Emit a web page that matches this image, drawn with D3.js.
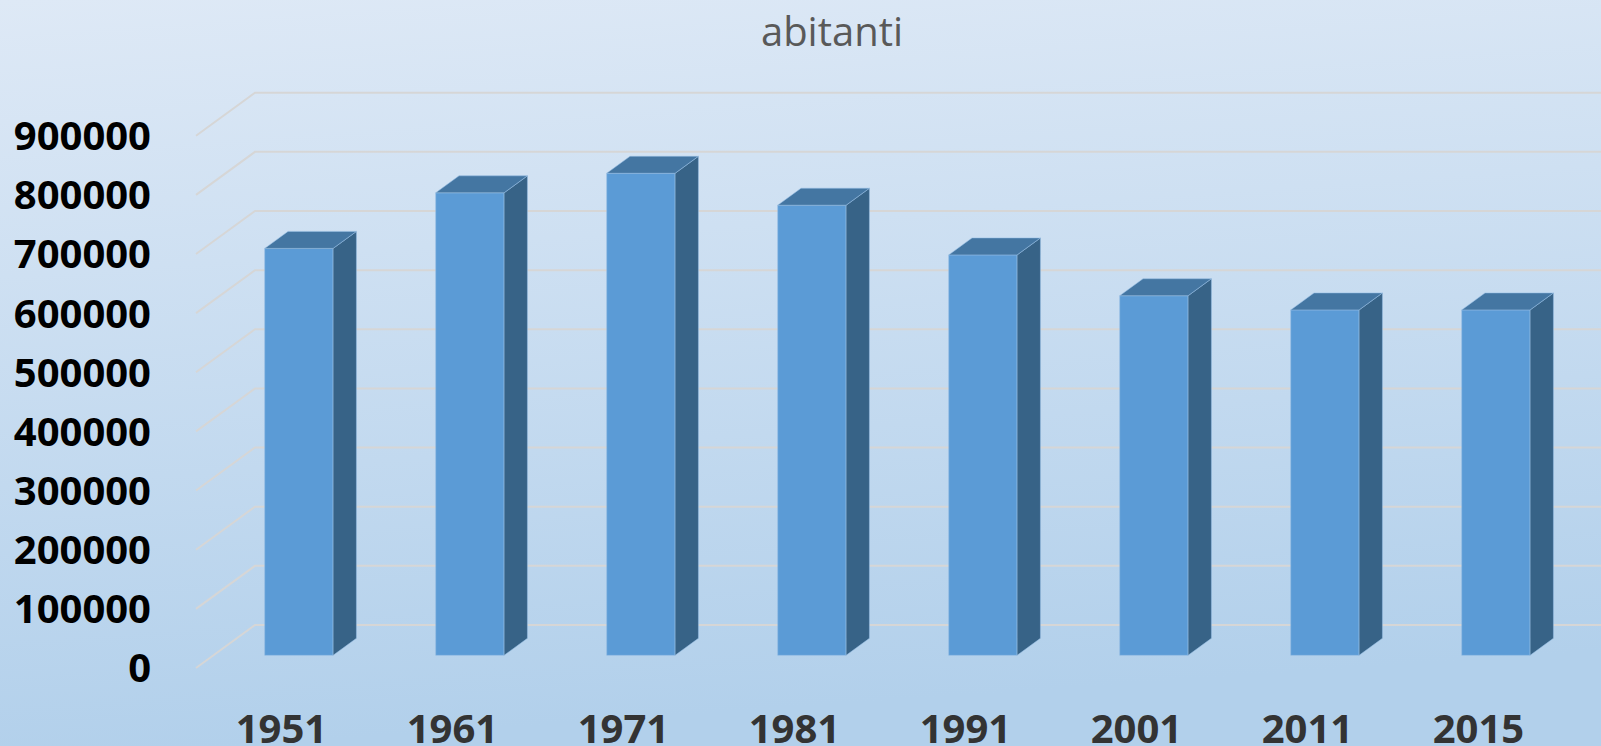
<!DOCTYPE html>
<html>
<head>
<meta charset="utf-8">
<script src="https://cdn.jsdelivr.net/npm/d3@7"></script>
<style>
  html, body { margin: 0; padding: 0; overflow: hidden; }
  svg { display: block; }
</style>
</head>
<body>
<svg id="chart"></svg>
<script>
// 3d column chart, excel style

// DATA
var years = ["1951", "1961", "1971", "1981", "1991", "2001", "2011", "2015"];
var abitanti = [688000, 782000, 815000, 761000, 677000, 608000, 584000, 584000];
var yTicks = [0, 100000, 200000, 300000, 400000, 500000, 600000, 700000, 800000, 900000];
var title = "abitanti";

// chart area
var width = 1601;
var height = 746;

// floor front-left corner and depth vector (front -> back wall)
var x0 = 196;
var depth = { dx: 59, dy: -43 };
// bar occupies this slice of the depth
var barZ0 = 0.295;
var barZ1 = 0.69;

var svg = d3.select("#chart")
    .attr("width", width)
    .attr("height", height);

// background gradient
var defs = svg.append("defs");
var grad = defs.append("linearGradient")
    .attr("id", "bg")
    .attr("x1", 0).attr("y1", 0)
    .attr("x2", 0.15).attr("y2", 1);
grad.append("stop").attr("offset", "0%").attr("stop-color", "#dee9f6");
grad.append("stop").attr("offset", "100%").attr("stop-color", "#b2d0eb");

svg.append("rect")
    .attr("width", width)
    .attr("height", height)
    .attr("fill", "url(#bg)");

// SCALES

// x, on the front edge of the floor
var x = d3.scaleBand()
    .domain(years)
    .range([x0, x0 + 171 * years.length])
    .paddingInner(0.6)
    .paddingOuter(0.3);

// y, on the front plane
var y = d3.scaleLinear()
    .domain([0, 900000])
    .range([668, 668 - 532.3]);

// project a point at depth z (0 = front, 1 = back wall)
function px(xv, z) { return xv + z * depth.dx; }
function py(yv, z) { return yv + z * depth.dy; }

// GRIDLINES

var grid = svg.append("g")
    .attr("stroke", "#d6d6d6")
    .attr("stroke-width", 2)
    .attr("fill", "none");

grid.selectAll("polyline")
    .data(yTicks)
    .enter()
    .append("polyline")
    .attr("points", function(d) {
        return [
            [x0, y(d)],
            [px(x0, 1), py(y(d), 1)],
            [px(x.range()[1], 1) + 40, py(y(d), 1)]
        ].join(" ");
    });

// AXIS LABELS

svg.append("g")
    .selectAll("text")
    .data(yTicks)
    .enter()
    .append("text")
    .attr("x", 151)
    .attr("y", d => y(d))
    .attr("dy", "0.36em")
    .attr("text-anchor", "end")
    .style("font-family", "'Open Sans', sans-serif")
    .style("font-weight", "bold")
    .style("font-size", "40px")
    .style("fill", "#000000")
    .text(d => d);

svg.append("g")
    .selectAll("text")
    .data(years)
    .enter()
    .append("text")
    .attr("x", d => x(d) + x.bandwidth() / 2)
    .attr("y", 743)
    .attr("text-anchor", "middle")
    .style("font-family", "'Open Sans', sans-serif")
    .style("font-weight", "bold")
    .style("font-size", "40px")
    .style("fill", "#333333")
    .text(d => d);

// TITLE

svg.append("text")
    .attr("x", 832)
    .attr("y", 46)
    .attr("text-anchor", "middle")
    .style("font-family", "'Open Sans', sans-serif")
    .style("font-size", "40px")
    .style("fill", "#595959")
    .text(title);

// BARS

var bars = svg.append("g")
    .selectAll("g")
    .data(years.map((yr, i) => ({ year: yr, value: abitanti[i] })))
    .enter()
    .append("g")
    .attr("stroke", "rgba(150,190,228,0.55)")
    .attr("stroke-width", 1)
    .attr("stroke-linejoin", "round");

function face(pts) {
    return "M" + pts.map(p => p.join(",")).join("L") + "Z";
}

// front face
bars.append("path")
    .attr("fill", "#5b9bd6")
    .attr("d", function(d) {
        var l = px(x(d.year), barZ0), r = px(x(d.year) + x.bandwidth(), barZ0);
        var t = py(y(d.value), barZ0), b = py(y(0), barZ0);
        return face([[l, t], [r, t], [r, b], [l, b]]);
    });

// side face
bars.append("path")
    .attr("fill", "#376387")
    .attr("d", function(d) {
        var xr = x(d.year) + x.bandwidth();
        return face([
            [px(xr, barZ0), py(y(d.value), barZ0)],
            [px(xr, barZ1), py(y(d.value), barZ1)],
            [px(xr, barZ1), py(y(0), barZ1)],
            [px(xr, barZ0), py(y(0), barZ0)]
        ]);
    });

// top face
bars.append("path")
    .attr("fill", "#4476a2")
    .attr("d", function(d) {
        var xl = x(d.year), xr = x(d.year) + x.bandwidth(), yt = y(d.value);
        return face([
            [px(xl, barZ0), py(yt, barZ0)],
            [px(xl, barZ1), py(yt, barZ1)],
            [px(xr, barZ1), py(yt, barZ1)],
            [px(xr, barZ0), py(yt, barZ0)]
        ]);
    });
</script>
</body>
</html>
